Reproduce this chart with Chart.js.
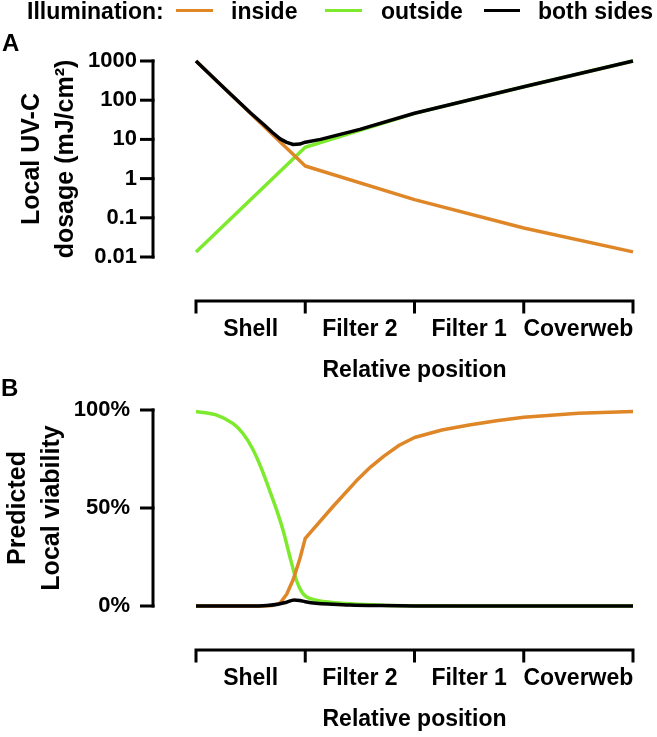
<!DOCTYPE html>
<html><head><meta charset="utf-8">
<script src="https://cdn.jsdelivr.net/npm/chart.js@4.4.1/dist/chart.umd.min.js"></script>
<style>
html,body{margin:0;padding:0;background:#fff;width:657px;height:737px;overflow:hidden;}
body{position:relative;font-family:"Liberation Sans",Arial,sans-serif;font-weight:bold;color:#000;}
canvas{position:absolute;left:0;}
.t{position:absolute;white-space:nowrap;font-size:23px;line-height:23px;z-index:2;}
.p{position:absolute;white-space:nowrap;font-size:24px;line-height:24px;z-index:2;}
.sw{position:absolute;height:3px;z-index:2;}
</style></head><body>
<canvas id="cA" width="657" height="388" style="top:0px"></canvas>
<canvas id="cB" width="657" height="388" style="top:349px"></canvas>
<div class="t" style="left:27px;top:0px">Illumination:</div>
<div class="sw" style="left:176px;top:9px;width:37px;background:#DF8627"></div>
<div class="t" style="left:231px;top:0px">inside</div>
<div class="sw" style="left:325px;top:9px;width:37px;background:#7DEA2E"></div>
<div class="t" style="left:381px;top:0px">outside</div>
<div class="sw" style="left:484px;top:9px;width:36px;background:#000"></div>
<div class="t" style="left:538px;top:0px">both sides</div>
<div class="p" style="left:2px;top:31px">A</div>
<div class="p" style="left:1px;top:376px">B</div>
<script>
// ---------- data ----------
const categories = ['Shell', 'Filter 2', 'Filter 1', 'Coverweb'];
const layerBounds = [0, 1, 2, 3, 4];
const legendLabels = ['inside', 'outside', 'both sides'];

const dosageTicks = [0.01, 0.1, 1, 10, 100, 1000];
const dosageTickLabels = ['0.01', '0.1', '1', '10', '100', '1000'];
const viabilityTicks = [0, 50, 100];
const viabilityTickLabels = ['0%', '50%', '100%'];

// Panel A: local UV-C dosage (mJ/cm2)
const dosePosInside = [0, 1, 2, 3, 4];
const doseInside = [1000, 2.1, 0.29, 0.055, 0.0135];
const dosePosOutside = [0, 1, 2, 3, 4];
const doseOutside = [0.0135, 6.3, 46, 220, 1000];
const dosePosBoth = [0, 0.25, 0.5, 0.62, 0.7, 0.77, 0.83, 0.89, 0.95, 1.0, 1.14, 1.5, 2, 3, 4];
const doseBoth = [1000, 215, 47, 24, 15, 10.3, 8.4, 7.4, 7.6, 8.5, 10, 18, 46.5, 220, 1000];

// Panel B: predicted local viability (%)
const viaPosInside = [0, 0.6, 0.7, 0.77, 0.83, 0.89, 0.95, 1.0, 1.25, 1.47, 1.6, 1.72, 1.86, 2, 2.25, 2.5, 2.75, 3, 3.5, 4];
const viaInside = [0, 0, 0.3, 1.5, 6, 13.5, 24, 34.5, 50.5, 64, 71, 76.5, 82, 86, 89.8, 92.3, 94.5, 96.3, 98.3, 99.2];
const viaPosOutside = [0, 0.19, 0.34, 0.43, 0.52, 0.6, 0.68, 0.75, 0.8, 0.86, 0.92, 0.97, 1.01, 1.1, 1.23, 1.41, 1.7, 2, 2.5, 4];
const viaOutside = [99.2, 97.4, 93, 88, 80, 70, 58, 47, 38, 25, 13, 7, 4.7, 3.0, 1.9, 1.1, 0.4, 0.15, 0.03, 0];
const viaPosBoth = [0, 0.5, 0.65, 0.75, 0.82, 0.9, 0.95, 1.0, 1.1, 1.25, 1.41, 1.7, 2, 4];
const viaBoth = [0, 0, 0.3, 0.9, 1.8, 3.1, 2.8, 2.2, 1.4, 0.9, 0.5, 0.2, 0.05, 0];

// ---------- styling ----------
const ORANGE = '#DF8627', GREEN = '#7DEA2E', BLACK = '#000000';
const FAMILY = "'Liberation Sans', Arial, Helvetica, sans-serif";
const font = (size, lh) => ({family: FAMILY, size: size, weight: 'bold', lineHeight: lh || 1.2});
const pts = (xs, ys) => xs.map((x, i) => ({x: x, y: ys[i]}));
const CLEAR = 'rgba(0,0,0,0)';

const axesDraw = {
  id: 'axesDraw',
  afterDraw(chart) {
    const o = chart.options.plugins.axesDraw;
    const {ctx, chartArea} = chart;
    const x = chart.scales.x, y = chart.scales.y;
    ctx.save();
    ctx.strokeStyle = '#000';
    ctx.lineWidth = 3;
    ctx.lineCap = 'butt';
    ctx.lineJoin = 'miter';
    const ax = o.yAxisX;
    const yTop = y.getPixelForValue(y.max), yBot = y.getPixelForValue(y.min);
    ctx.beginPath();
    ctx.moveTo(ax, yTop - 1.5);
    ctx.lineTo(ax, yBot + 1.5);
    ctx.stroke();
    y.ticks.forEach(t => {
      const py = y.getPixelForValue(t.value);
      ctx.beginPath();
      ctx.moveTo(ax - 13, py);
      ctx.lineTo(ax + 1.5, py);
      ctx.stroke();
    });
    const by = chartArea.bottom + o.bracketGap;
    const first = x.getPixelForValue(layerBounds[0]);
    const last = x.getPixelForValue(layerBounds[layerBounds.length - 1]);
    ctx.beginPath();
    ctx.moveTo(first, by + 12.5);
    ctx.lineTo(first, by);
    ctx.lineTo(last, by);
    ctx.lineTo(last, by + 12.5);
    ctx.stroke();
    layerBounds.slice(1, -1).forEach(v => {
      const px = x.getPixelForValue(v);
      ctx.beginPath();
      ctx.moveTo(px, by);
      ctx.lineTo(px, by + 12.5);
      ctx.stroke();
    });
    ctx.restore();
  }
};

function makeChart(id, cfg) {
  return new Chart(document.getElementById(id), {
    type: 'line',
    data: {datasets: [
      {label: legendLabels[2], data: pts(cfg.posBoth, cfg.both), borderColor: BLACK, order: 0, clip: false, cubicInterpolationMode: cfg.smooth ? 'monotone' : 'default'},
      {label: legendLabels[0], data: pts(cfg.posIn, cfg.inside), borderColor: ORANGE, order: 1, clip: false},
      {label: legendLabels[1], data: pts(cfg.posOut, cfg.outside), borderColor: GREEN, order: 2, clip: false, cubicInterpolationMode: cfg.smooth ? 'monotone' : 'default'}
    ]},
    options: {
      responsive: false, animation: false, devicePixelRatio: 1,
      layout: {padding: {top: 61, left: 0, right: 24, bottom: 0}},
      elements: {point: {radius: 0}, line: {borderWidth: 3.5, tension: 0, borderJoinStyle: 'round', borderCapStyle: 'butt'}},
      plugins: {legend: {display: false}, tooltip: {enabled: false}, axesDraw: {yAxisX: 153, bracketGap: 44}},
      scales: {
        x: {
          type: 'linear', min: 0, max: 4,
          border: {display: false},
          grid: {display: true, drawOnChartArea: false, drawTicks: true, tickLength: 59, color: CLEAR},
          afterBuildTicks: s => { s.ticks = categories.map((c, i) => ({value: i + 0.5})); },
          afterFit: s => { s.height = 131; },
          ticks: {autoSkip: false, maxRotation: 0, minRotation: 0, padding: 0, color: '#000', font: font(23),
                  callback: (v, i) => categories[i]},
          title: {display: true, text: 'Relative position', color: '#000', font: font(23), padding: {top: 0, bottom: 4}}
        },
        y: Object.assign({
          border: {display: false},
          grid: {display: true, drawOnChartArea: false, drawTicks: true, tickLength: cfg.tickLen, color: CLEAR},
          afterBuildTicks: s => { s.ticks = cfg.ticks.map(v => ({value: v})); },
          afterFit: s => { s.width = 196; },
          ticks: {padding: 3, color: '#000', font: font(22), callback: (v, i) => cfg.tickLabels[i]},
          title: {display: true, text: cfg.title, color: '#000', font: font(25, 1.36), padding: {top: cfg.titlePad, bottom: 0}}
        }, cfg.yScale)
      }
    },
    plugins: [axesDraw]
  });
}

makeChart('cA', {
  posBoth: dosePosBoth, both: doseBoth, posIn: dosePosInside, inside: doseInside, posOut: dosePosOutside, outside: doseOutside,
  ticks: dosageTicks, tickLabels: dosageTickLabels, tickLen: 56, smooth: false,
  title: ['Local UV-C', 'dosage (mJ/cm²)'], titlePad: 15,
  yScale: {type: 'logarithmic', min: 0.01, max: 1000}
});
makeChart('cB', {
  posBoth: viaPosBoth, both: viaBoth, posIn: viaPosInside, inside: viaInside, posOut: viaPosOutside, outside: viaOutside,
  ticks: viabilityTicks, tickLabels: viabilityTickLabels, tickLen: 63, smooth: true,
  title: ['Predicted', 'Local viability'], titlePad: 1,
  yScale: {type: 'linear', min: 0, max: 100}
});
</script>
</body></html>
